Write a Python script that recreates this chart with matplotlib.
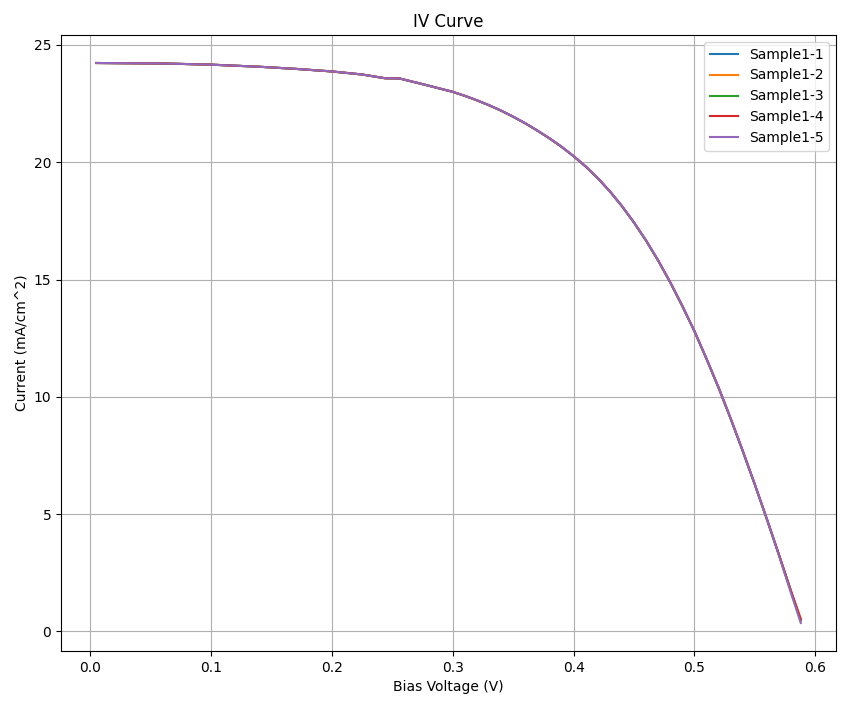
import matplotlib
matplotlib.use('Agg')
import matplotlib.pyplot as plt

# bias voltage (V), shared by all samples
voltage = [0.005, 0.03, 0.06, 0.1, 0.14, 0.17, 0.2, 0.225, 0.244, 0.256,
           0.278, 0.3, 0.31, 0.32, 0.33, 0.34, 0.35, 0.36, 0.37, 0.38,
           0.39, 0.4, 0.41, 0.42, 0.43, 0.44, 0.45, 0.46, 0.47, 0.48,
           0.49, 0.5, 0.51, 0.52, 0.53, 0.54, 0.55, 0.56, 0.57, 0.58,
           0.588]

# current density (mA/cm^2) per sample, they nearly overlap
sample1_1 = [24.23, 24.22, 24.21, 24.16, 24.07, 23.98, 23.87, 23.74, 23.58, 23.57,
             23.29, 23.0, 22.83, 22.64, 22.43, 22.2, 21.94, 21.66, 21.35, 21.02,
             20.66, 20.26, 19.82, 19.32, 18.76, 18.13, 17.43, 16.66, 15.81, 14.88,
             13.87, 12.8, 11.62, 10.39, 9.07, 7.69, 6.26, 4.78, 3.26, 1.7,
             0.5]
sample1_2 = [24.23, 24.22, 24.21, 24.16, 24.07, 23.98, 23.87, 23.74, 23.58, 23.57,
             23.29, 23.0, 22.83, 22.64, 22.43, 22.2, 21.94, 21.66, 21.35, 21.02,
             20.66, 20.26, 19.82, 19.32, 18.76, 18.13, 17.43, 16.66, 15.81, 14.88,
             13.87, 12.8, 11.62, 10.39, 9.07, 7.69, 6.26, 4.78, 3.26, 1.7,
             0.55]
sample1_3 = [24.23, 24.22, 24.21, 24.16, 24.07, 23.98, 23.87, 23.74, 23.58, 23.57,
             23.29, 23.0, 22.83, 22.64, 22.43, 22.2, 21.94, 21.66, 21.35, 21.02,
             20.66, 20.26, 19.82, 19.32, 18.76, 18.13, 17.43, 16.66, 15.81, 14.88,
             13.87, 12.8, 11.62, 10.39, 9.07, 7.69, 6.26, 4.78, 3.26, 1.7,
             0.45]
sample1_4 = [24.23, 24.22, 24.21, 24.16, 24.07, 23.98, 23.87, 23.74, 23.58, 23.57,
             23.29, 23.0, 22.83, 22.64, 22.43, 22.2, 21.94, 21.66, 21.35, 21.02,
             20.66, 20.26, 19.82, 19.32, 18.76, 18.13, 17.43, 16.66, 15.81, 14.88,
             13.87, 12.8, 11.62, 10.39, 9.07, 7.69, 6.26, 4.78, 3.26, 1.7,
             0.5]
sample1_5 = [24.23, 24.22, 24.21, 24.16, 24.07, 23.98, 23.87, 23.74, 23.58, 23.57,
             23.29, 23.0, 22.83, 22.64, 22.43, 22.2, 21.94, 21.66, 21.35, 21.02,
             20.66, 20.26, 19.82, 19.32, 18.76, 18.13, 17.43, 16.66, 15.81, 14.88,
             13.87, 12.8, 11.62, 10.39, 9.07, 7.69, 6.26, 4.78, 3.22, 1.62,
             0.36]

labels = ['Sample1-1', 'Sample1-2', 'Sample1-3', 'Sample1-4', 'Sample1-5']
currents = [sample1_1, sample1_2, sample1_3, sample1_4, sample1_5]

fig, ax = plt.subplots(figsize=(8.58, 7.06), dpi=100)

for label, current in zip(labels, currents):
    ax.plot(voltage, current, label=label)

ax.set_title('IV Curve')
ax.set_xlabel('Bias Voltage (V)')
ax.set_ylabel('Current (mA/cm^2)')
ax.grid(True)
ax.legend(loc='upper right')

fig.subplots_adjust(left=61 / 858, right=836 / 858, top=1 - 35 / 706, bottom=1 - 651 / 706)
plt.savefig('out.png')
